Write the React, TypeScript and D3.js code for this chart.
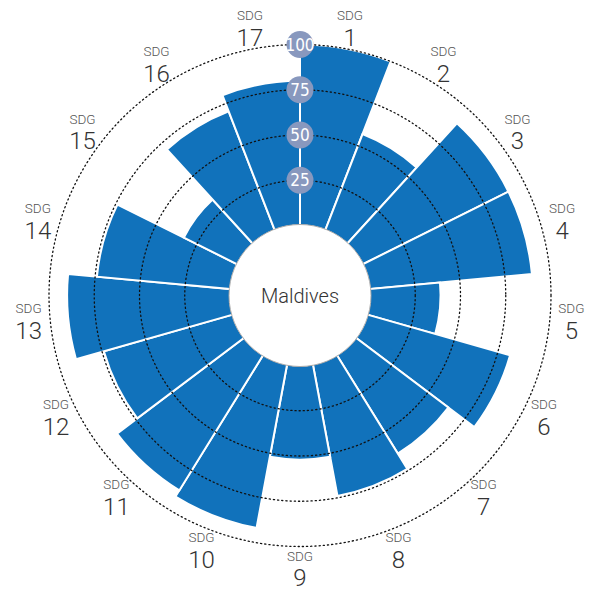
import React from "react";
import * as d3 from "d3";

const categories = ["1","2","3","4","5","6","7","8","9","10","11","12","13","14","15","16","17"];
const values = [100, 57, 90, 90, 39, 82, 64, 74, 52, 92, 88, 74, 90, 74, 33, 70.5, 80];
const gridTicks = [25, 50, 75, 100];
const countryName = "Maldives";

const W = 598, H = 592;
const cx = 300, cy = 295.5;
const innerR = 70, outerR = 251;

export default function App() {
  const r = d3.scaleLinear().domain([0, 100]).range([innerR, outerR]);
  const a = d3.scaleBand<string>().domain(categories).range([0, 2 * Math.PI]).padding(0);
  const arc = d3.arc<any>();
  const labelR = 272.5;
  return (
    <svg width={W} height={H} style={{ position: "absolute", left: 0, top: 0 }}>
      <g transform={`translate(${cx},${cy})`}>
        {categories.map((c, i) => (
          <path
            key={c}
            d={arc({
              innerRadius: innerR,
              outerRadius: r(values[i]),
              startAngle: a(c)!,
              endAngle: a(c)! + a.bandwidth(),
            }) as string}
            fill="#1172bb"
            stroke="#fff"
            strokeWidth={2}
          />
        ))}
        {gridTicks.map((t) => (
          <circle key={t} r={r(t)} fill="none" stroke="#111" strokeWidth={1.3} strokeDasharray="1.2 3" strokeLinecap="round" />
        ))}
        <circle r={71} fill="#fff" stroke="#aaa" strokeWidth={1} />
        <text x={0} y={7} textAnchor="middle" fontFamily="Roboto, sans-serif" fontWeight={300} fontSize={20} fill="#333">{countryName}</text>
        {gridTicks.map((t) => (
          <g key={t} transform={`translate(0,${-r(t)})`}>
            <circle r={13.5} fill="#8898be" />
            <text y={6} textAnchor="middle" fill="#fff" fontSize={17} fontFamily="'Liberation Sans Narrow','DejaVu Sans Condensed',sans-serif">{t}</text>
          </g>
        ))}
        {categories.map((c) => {
          const ang = a(c)! + a.bandwidth() / 2;
          const x = Math.sin(ang) * labelR;
          const y = -Math.cos(ang) * labelR;
          return (
            <g key={c} transform={`translate(${x},${y})`}>
              <text y={-7.5} textAnchor="middle" fontSize={13.5} fill="#555" fontFamily="Roboto, sans-serif" fontWeight={300}>SDG</text>
              <text y={18} textAnchor="middle" fontSize={24} fill="#333" fontFamily="Roboto, sans-serif" fontWeight={300}>{c}</text>
            </g>
          );
        })}
      </g>
    </svg>
  );
}
